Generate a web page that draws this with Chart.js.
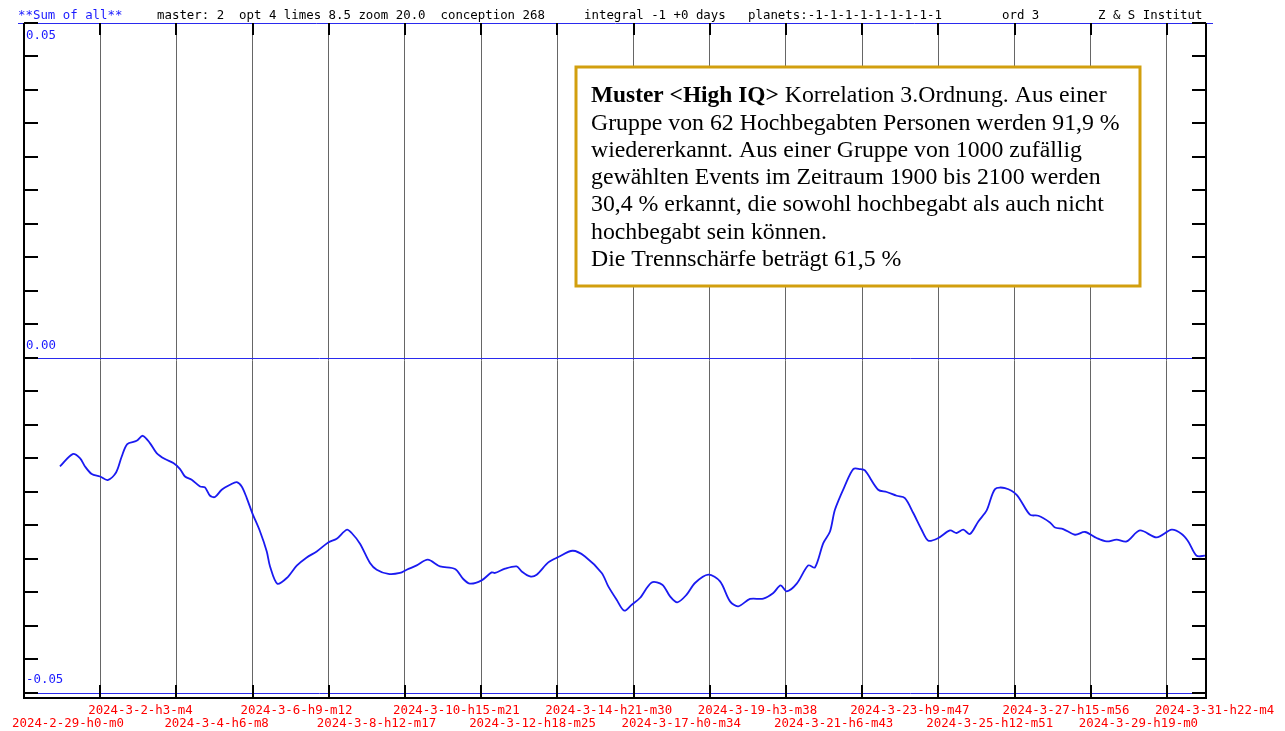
<!DOCTYPE html>
<html>
<head>
<meta charset="utf-8">
<script src="https://cdn.jsdelivr.net/npm/chart.js@4"></script>
<style>
  body { margin: 0; background: #fff; }
  canvas { display: block; }
</style>
</head>
<body>
<canvas id="chart" width="1285" height="731"></canvas>
<script>
// hours since 2024-02-29 00:00
const hours = [
  24.1, 32.6, 37.5, 40.9, 45.4, 50.9, 56.1, 61.7, 65.5, 69.2,
  75.5, 79.6, 84.4, 88.9, 94.5, 100.1, 104.6, 107.9, 112.4, 118.0,
  121.3, 124.7, 128.0, 132.5, 138.1, 142.6, 145.9, 149.3, 153.0, 158.2,
  162.7, 164.9, 169.8, 176.1, 182.8, 189.5, 196.2, 203.9, 209.6, 216.3,
  219.6, 225.2, 231.9, 236.4, 244.2, 252.0, 256.5, 263.2, 270.6, 278.8,
  288.9, 294.4, 298.9, 306.7, 313.4, 315.7, 322.4, 330.2, 333.6, 339.1,
  343.6, 351.4, 358.1, 367.7, 376.0, 387.2, 391.6, 397.2, 402.3, 407.3,
  412.8, 420.7, 427.8, 433.0, 437.8, 444.1, 449.7, 458.6, 466.5, 473.2,
  478.7, 486.6, 495.5, 502.2, 507.1, 511.2, 517.9, 525.6, 530.1, 535.7,
  540.2, 543.5, 550.2, 555.8, 560.3, 563.6, 572.5, 578.2, 584.9, 590.4,
  596.0, 601.6, 606.1, 612.8, 620.6, 625.1, 629.5, 634.0, 639.6, 645.2,
  650.8, 657.5, 665.3, 674.2, 679.8, 687.6, 691.0, 696.5, 704.4, 711.1,
  718.9, 725.6, 732.3, 739.0, 747.9, 759.1, 769.2, 775.9, 780.3, 785.9, 791.5
];

const sumOfAll = [
  -0.01622, -0.01437, -0.01497, -0.01622, -0.01736, -0.01772, -0.01825, -0.01712, -0.01473, -0.01288,
  -0.01239, -0.01164, -0.01273, -0.01422, -0.01512, -0.01572, -0.01661, -0.01772, -0.01821, -0.01921,
  -0.01936, -0.02060, -0.02079, -0.01970, -0.01896, -0.01855, -0.01921, -0.02094, -0.02318, -0.02593,
  -0.02891, -0.03115, -0.03373, -0.03288, -0.03104, -0.02981, -0.02891, -0.02757, -0.02701, -0.02567,
  -0.02616, -0.02776, -0.03064, -0.03164, -0.03228, -0.03213, -0.03164, -0.03100, -0.03015, -0.03115,
  -0.03154, -0.03303, -0.03373, -0.03324, -0.03204, -0.03213, -0.03149, -0.03115, -0.03190, -0.03264,
  -0.03239, -0.03055, -0.02975, -0.02881, -0.02966, -0.03213, -0.03413, -0.03612, -0.03776, -0.03687,
  -0.03587, -0.03354, -0.03388, -0.03563, -0.03652, -0.03537, -0.03363, -0.03239, -0.03339, -0.03637,
  -0.03712, -0.03601, -0.03597, -0.03512, -0.03399, -0.03488, -0.03373, -0.03100, -0.03130, -0.02766,
  -0.02593, -0.02269, -0.01910, -0.01661, -0.01661, -0.01682, -0.01970, -0.02004, -0.02060, -0.02094,
  -0.02318, -0.02567, -0.02731, -0.02691, -0.02578, -0.02616, -0.02567, -0.02631, -0.02443, -0.02279,
  -0.01960, -0.01945, -0.02045, -0.02343, -0.02358, -0.02458, -0.02533, -0.02557, -0.02642, -0.02601,
  -0.02691, -0.02742, -0.02716, -0.02742, -0.02578, -0.02682, -0.02567, -0.02631, -0.02742, -0.02955, -0.02955
];

const tickLabels = [
  '2024-2-29-h0-m0', '2024-3-2-h3-m4', '2024-3-4-h6-m8', '2024-3-6-h9-m12',
  '2024-3-8-h12-m17', '2024-3-10-h15-m21', '2024-3-12-h18-m25', '2024-3-14-h21-m30',
  '2024-3-17-h0-m34', '2024-3-19-h3-m38', '2024-3-21-h6-m43', '2024-3-23-h9-m47',
  '2024-3-25-h12-m51', '2024-3-27-h15-m56', '2024-3-29-h19-m0', '2024-3-31-h22-m4'
];
const tickStep = 51 + 4 / 60; // 2 days 3h 4m
const xMax = 792.2;

const yLabelled = [0.05, 0.00, -0.05];
const yTickValues = [];
for (let k = -10; k <= 10; k++) yTickValues.push(k * 0.005);

const headerItems = [
  { text: '**Sum of all**', x: 18, color: '#1a1aff' },
  { text: 'master: 2  opt 4 limes 8.5 zoom 20.0  conception 268', x: 157, color: '#000' },
  { text: 'integral -1 +0 days', x: 584, color: '#000' },
  { text: 'planets:-1-1-1-1-1-1-1-1-1', x: 748, color: '#000' },
  { text: 'ord 3', x: 1002, color: '#000' },
  { text: 'Z & S Institut', x: 1098, color: '#000' }
];

const noteBold = 'Muster <High IQ>';
const noteLines = [
  ' Korrelation 3.Ordnung. Aus einer',
  'Gruppe von 62 Hochbegabten Personen werden 91,9 %',
  'wiedererkannt. Aus einer Gruppe von 1000 zufällig',
  'gewählten Events im Zeitraum 1900 bis 2100 werden',
  '30,4 % erkannt, die sowohl hochbegabt als auch nicht',
  'hochbegabt sein können.',
  'Die Trennschärfe beträgt 61,5 %'
];

const mono = 'DejaVu Sans Mono';
const isLabelled = v => yLabelled.some(l => Math.abs(l - v) < 1e-9);

const frame = {
  id: 'frame',
  beforeDatasetsDraw(chart) {
    const { ctx, chartArea: a, scales: { y } } = chart;
    ctx.save();
    ctx.strokeStyle = '#2a2aee';
    ctx.lineWidth = 1;
    ctx.beginPath();
    yLabelled.forEach(v => {
      const py = Math.round(y.getPixelForValue(v)) + 0.5;
      const x0 = v === 0.05 ? 18 : a.left;
      const x1 = v === 0.05 ? 1213 : a.right;
      ctx.moveTo(x0, py);
      ctx.lineTo(x1, py);
    });
    ctx.stroke();
    ctx.restore();
  },
  afterDatasetsDraw(chart) {
    const { ctx, chartArea: a, scales: { x, y } } = chart;
    ctx.save();

    // frame
    ctx.strokeStyle = '#000';
    ctx.lineWidth = 2;
    ctx.beginPath();
    ctx.moveTo(a.left, a.top);
    ctx.lineTo(a.left, a.bottom);
    ctx.lineTo(a.right, a.bottom);
    ctx.lineTo(a.right, a.top);
    ctx.stroke();

    // inner tick marks
    ctx.beginPath();
    yTickValues.forEach(v => {
      const py = Math.round(y.getPixelForValue(v));
      ctx.moveTo(a.left, py); ctx.lineTo(a.left + 14, py);
      ctx.moveTo(a.right - 14, py); ctx.lineTo(a.right, py);
    });
    x.ticks.forEach((t, i) => {
      if (i === 0) return;
      const px = Math.round(x.getPixelForValue(t.value));
      ctx.moveTo(px, a.top); ctx.lineTo(px, a.top + 12);
      ctx.moveTo(px, a.bottom - 13); ctx.lineTo(px, a.bottom);
    });
    ctx.stroke();

    // header
    ctx.font = '12.4px "' + mono + '"';
    ctx.textBaseline = 'middle';
    ctx.textAlign = 'left';
    headerItems.forEach(h => {
      ctx.fillStyle = h.color;
      ctx.fillText(h.text, h.x, 16);
    });

    // note box
    const bx = 576, by = 67, bw = 564, bh = 219;
    ctx.fillStyle = '#fff';
    ctx.fillRect(bx, by, bw, bh);
    ctx.strokeStyle = '#d29f0e';
    ctx.lineWidth = 3;
    ctx.strokeRect(bx, by, bw, bh);

    ctx.fillStyle = '#000';
    ctx.textBaseline = 'middle';
    const tx = 591, ty = 96, lh = 27.3;
    ctx.font = 'bold 23.4px "Liberation Serif"';
    ctx.fillText(noteBold, tx, ty);
    const bw0 = ctx.measureText(noteBold).width;
    ctx.font = '23.8px "Liberation Serif"';
    noteLines.forEach((line, i) => {
      ctx.fillText(line, i === 0 ? tx + bw0 : tx, ty + i * lh);
    });

    ctx.restore();
  }
};

new Chart(document.getElementById('chart'), {
  type: 'line',
  data: {
    datasets: [{
      label: 'Sum of all',
      data: hours.map((h, i) => ({ x: h, y: sumOfAll[i] })),
      borderColor: '#1a1af0',
      borderWidth: 1.8,
      pointRadius: 0,
      tension: 0.3,
      fill: false
    }]
  },
  options: {
    responsive: false,
    animation: false,
    layout: { padding: { left: 24, right: 79, top: 23, bottom: 0 } },
    plugins: { legend: { display: false }, tooltip: { enabled: false } },
    scales: {
      x: {
        type: 'linear',
        min: 0,
        max: xMax,
        afterBuildTicks: s => { s.ticks = tickLabels.map((l, i) => ({ value: i * tickStep })); },
        afterFit: s => { s.height = 33; s.paddingLeft = 0; s.paddingRight = 0; },
        border: { display: false },
        grid: { color: '#666', lineWidth: 1, drawTicks: false },
        ticks: {
          autoSkip: false,
          maxRotation: 0,
          minRotation: 0,
          align: 'start',
          labelOffset: -12,
          padding: 7,
          color: '#ff0000',
          font: { family: mono, size: 12.4, lineHeight: 1 },
          callback: (v, i) => i % 2 ? [tickLabels[i], ''] : ['', tickLabels[i]]
        }
      },
      y: {
        min: -0.0508,
        max: 0.05,
        afterBuildTicks: s => { s.ticks = yTickValues.map(v => ({ value: v })); },
        afterFit: s => { s.width = 0; },
        border: { display: false },
        grid: { display: false },
        ticks: {
          mirror: true,
          padding: 2,
          color: '#1a1aff',
          font: { family: mono, size: 12.4, lineHeight: 1 },
          callback: v => {
            if (!isLabelled(v)) return '';
            const s = v.toFixed(2);
            return v > 0.01 ? ['', '', s] : [s, '', ''];
          }
        }
      }
    }
  },
  plugins: [frame]
});
</script>
</body>
</html>
